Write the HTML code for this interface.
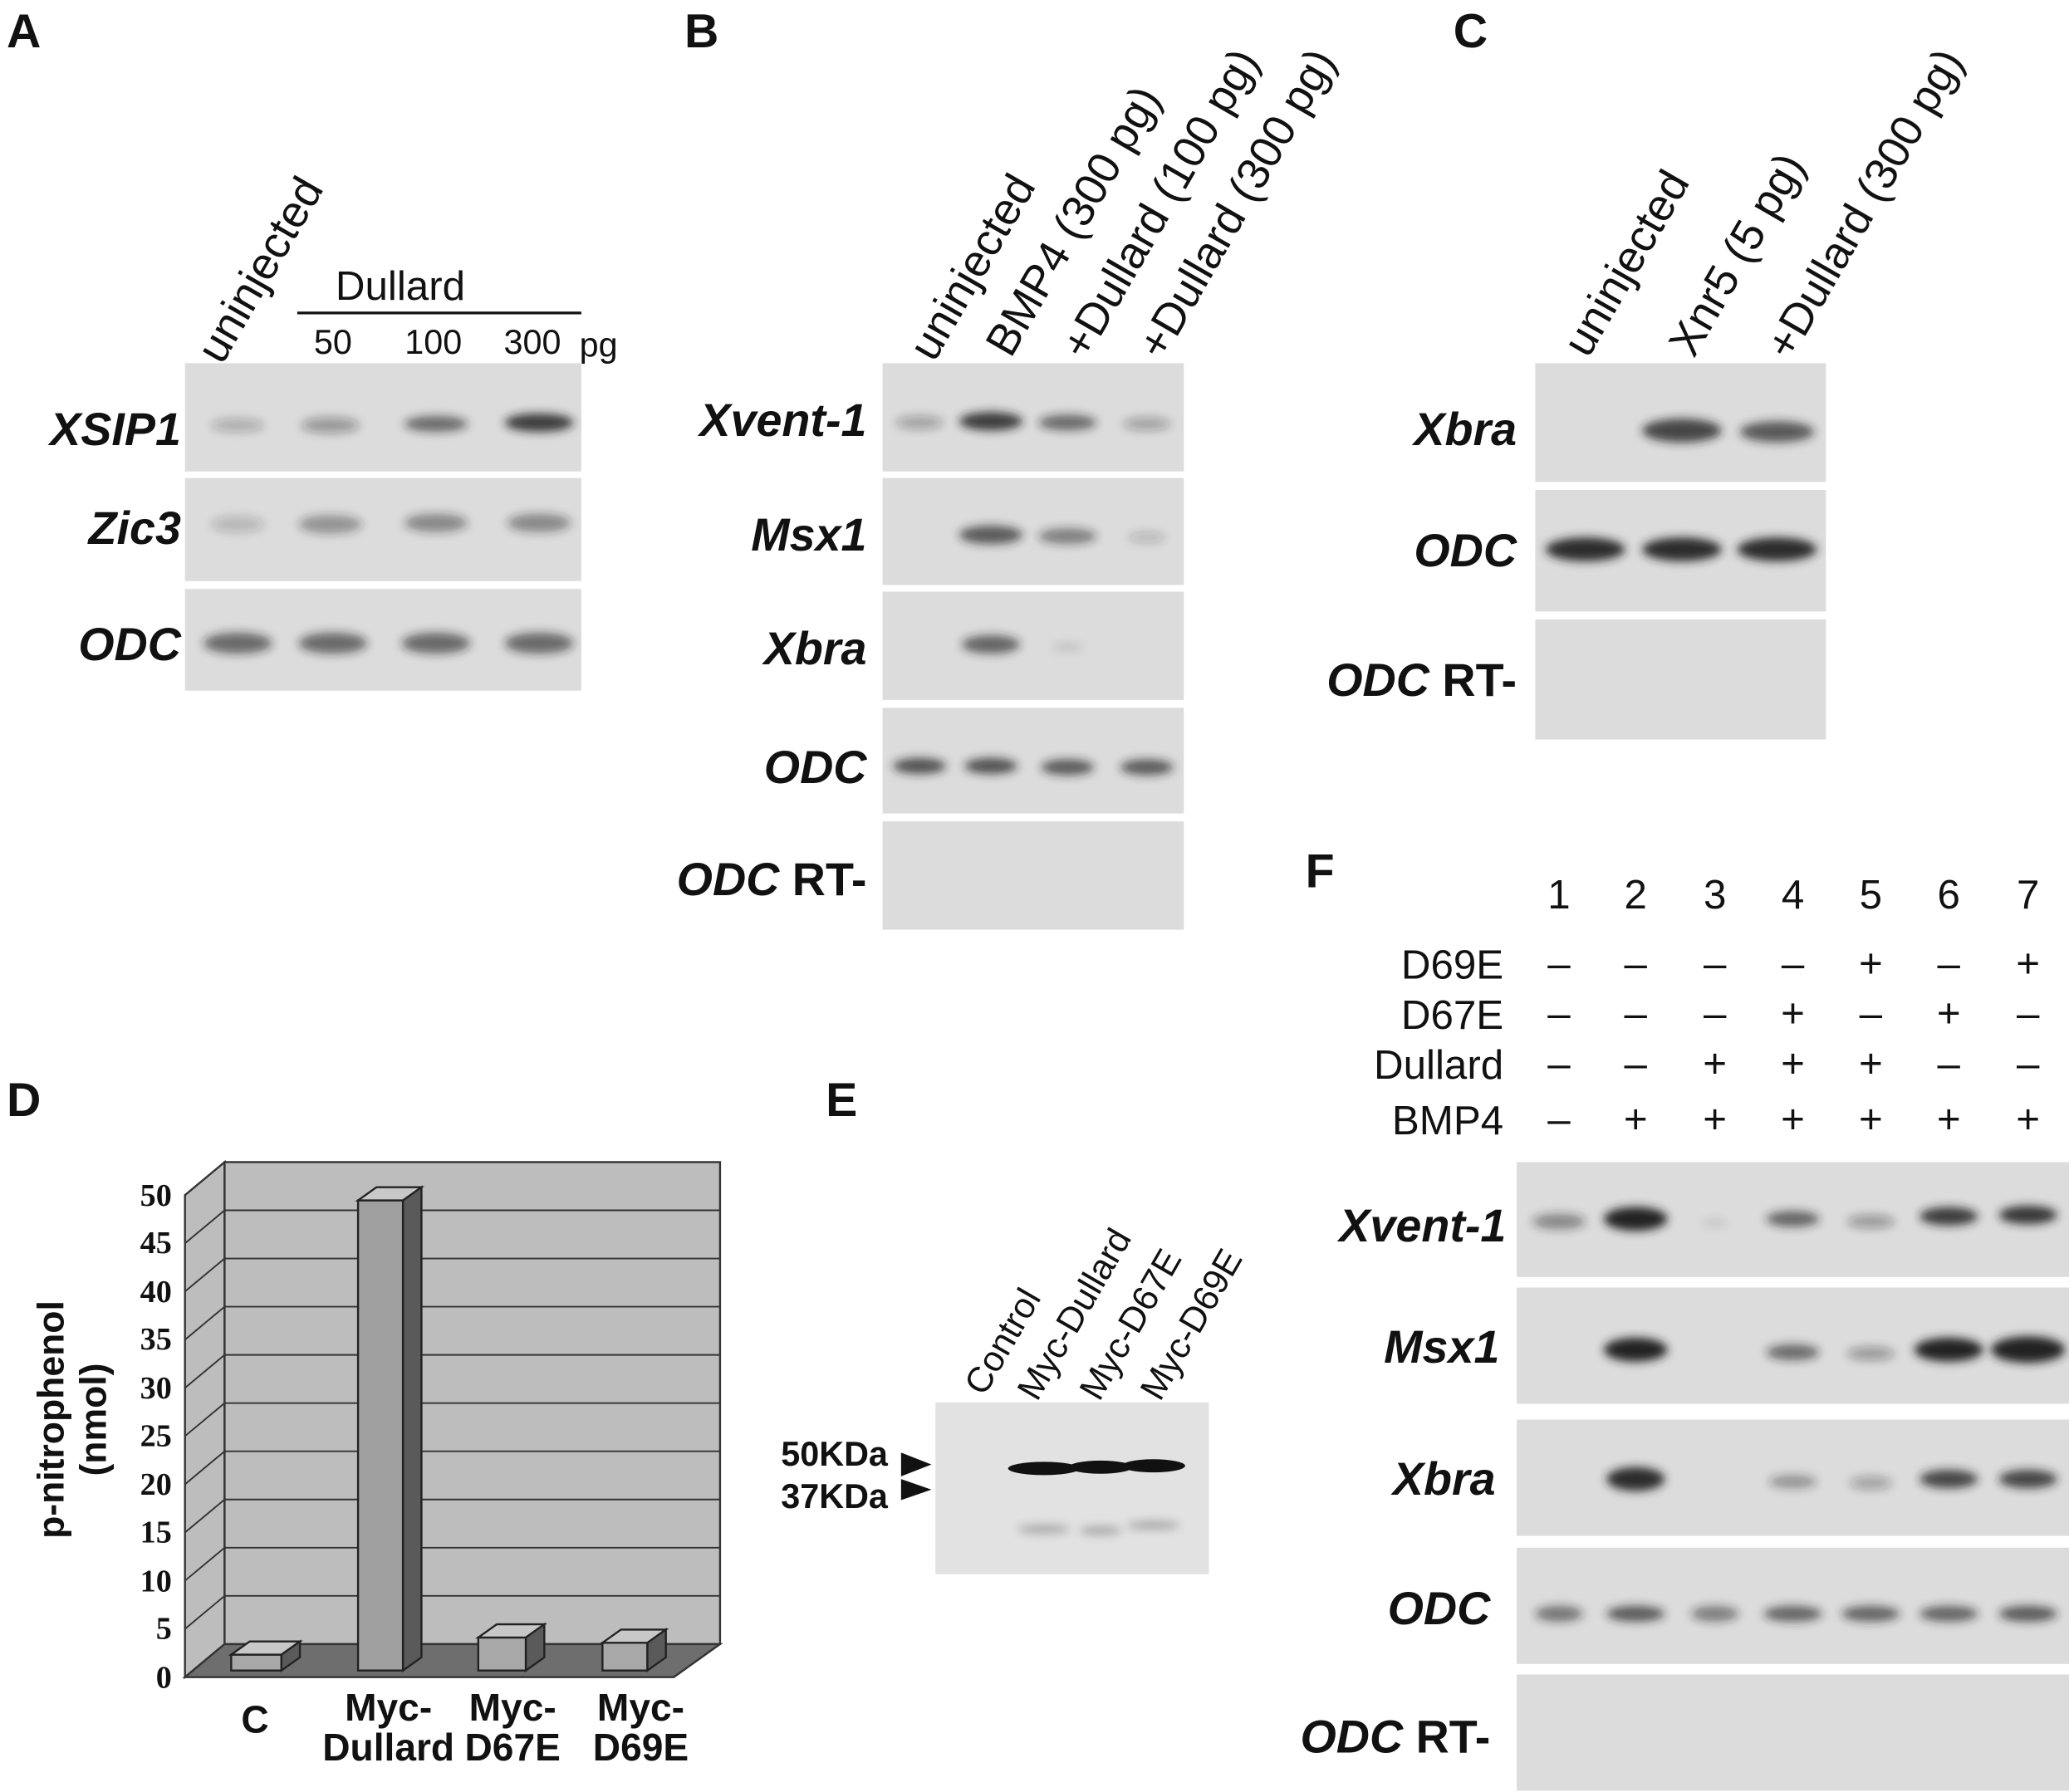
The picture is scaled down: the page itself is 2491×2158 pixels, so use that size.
<!DOCTYPE html>
<html><head><meta charset="utf-8"><style>
html,body{margin:0;padding:0;background:#fff;}
svg{display:block}
text{font-family:"Liberation Sans",sans-serif;fill:#111}
.L{font-size:36px;font-weight:bold}
.g{font-size:35px;font-weight:bold;font-style:italic}
.r{font-size:31px}
.rt{font-size:34px}
.n{font-size:30px}
.s{font-family:"Liberation Serif",serif;font-weight:bold;font-size:24px}
</style></head><body>
<svg width="2491" height="2158" viewBox="0 0 1566 1357" preserveAspectRatio="none" xmlns="http://www.w3.org/2000/svg">
<defs>
<filter id="b" x="-50%" y="-100%" width="200%" height="300%"><feGaussianBlur stdDeviation="3.5"/></filter>
</defs>
<g fill="#dcdcdc">
<rect x="140" y="275" width="300" height="82"/><rect x="140" y="362" width="300" height="78"/><rect x="140" y="446" width="300" height="77"/>
<rect x="668" y="275" width="228" height="82"/><rect x="668" y="362" width="228" height="81"/><rect x="668" y="448" width="228" height="82"/><rect x="668" y="536" width="228" height="80"/><rect x="668" y="622" width="228" height="82"/>
<rect x="1162" y="275" width="220" height="90"/><rect x="1162" y="371" width="220" height="92"/><rect x="1162" y="469" width="220" height="91"/>
<rect x="1148" y="880" width="418" height="87"/><rect x="1148" y="975" width="418" height="88"/><rect x="1148" y="1075" width="418" height="88"/><rect x="1148" y="1172" width="418" height="88"/><rect x="1148" y="1268" width="418" height="88"/>
<rect x="708" y="1062" width="207" height="130" fill="#e2e2e2"/>
</g>
<g filter="url(#b)" fill="#222">
<ellipse cx="180" cy="322" rx="20" ry="5" opacity="0.25"/><ellipse cx="250" cy="322" rx="22" ry="6" opacity="0.35"/><ellipse cx="330" cy="321" rx="24" ry="6" opacity="0.6"/><ellipse cx="408" cy="320" rx="26" ry="7" opacity="0.85"/>
<ellipse cx="180" cy="397" rx="20" ry="6" opacity="0.2"/><ellipse cx="250" cy="397" rx="24" ry="7" opacity="0.4"/><ellipse cx="330" cy="396" rx="24" ry="7" opacity="0.45"/><ellipse cx="408" cy="396" rx="24" ry="7" opacity="0.45"/>
<ellipse cx="180" cy="487" rx="26" ry="8" opacity="0.6"/><ellipse cx="252" cy="487" rx="26" ry="8" opacity="0.6"/><ellipse cx="330" cy="487" rx="26" ry="8" opacity="0.6"/><ellipse cx="408" cy="487" rx="26" ry="8" opacity="0.6"/>
<ellipse cx="696" cy="320" rx="18" ry="5" opacity="0.3"/><ellipse cx="750" cy="319" rx="24" ry="7" opacity="0.85"/><ellipse cx="808" cy="320" rx="22" ry="6" opacity="0.6"/><ellipse cx="868" cy="321" rx="18" ry="5" opacity="0.3"/>
<ellipse cx="750" cy="405" rx="24" ry="7" opacity="0.7"/><ellipse cx="808" cy="406" rx="22" ry="6" opacity="0.5"/><ellipse cx="868" cy="407" rx="14" ry="4" opacity="0.2"/>
<ellipse cx="750" cy="488" rx="22" ry="7" opacity="0.65"/><ellipse cx="808" cy="490" rx="12" ry="3" opacity="0.12"/>
<ellipse cx="696" cy="580" rx="20" ry="6" opacity="0.75"/><ellipse cx="750" cy="580" rx="20" ry="6" opacity="0.75"/><ellipse cx="808" cy="581" rx="20" ry="6" opacity="0.7"/><ellipse cx="868" cy="581" rx="20" ry="6" opacity="0.7"/>
<ellipse cx="1273" cy="326" rx="30" ry="9" opacity="0.8"/><ellipse cx="1345" cy="327" rx="28" ry="8" opacity="0.7"/>
<ellipse cx="1200" cy="416" rx="30" ry="9" opacity="0.95"/><ellipse cx="1273" cy="416" rx="30" ry="9" opacity="0.95"/><ellipse cx="1345" cy="416" rx="30" ry="9" opacity="0.95"/>
<ellipse cx="1180" cy="925" rx="20" ry="6" opacity="0.45"/><ellipse cx="1238" cy="923" rx="24" ry="9" opacity="1"/><ellipse cx="1298" cy="926" rx="10" ry="3" opacity="0.1"/><ellipse cx="1357" cy="923" rx="20" ry="6" opacity="0.65"/><ellipse cx="1416" cy="925" rx="18" ry="5" opacity="0.35"/><ellipse cx="1475" cy="921" rx="22" ry="7" opacity="0.85"/><ellipse cx="1535" cy="920" rx="22" ry="7" opacity="0.9"/>
<ellipse cx="1238" cy="1022" rx="24" ry="9" opacity="1"/><ellipse cx="1357" cy="1024" rx="20" ry="6" opacity="0.6"/><ellipse cx="1416" cy="1025" rx="18" ry="5" opacity="0.35"/><ellipse cx="1475" cy="1022" rx="26" ry="9" opacity="1"/><ellipse cx="1535" cy="1022" rx="28" ry="10" opacity="1"/>
<ellipse cx="1238" cy="1120" rx="22" ry="9" opacity="0.95"/><ellipse cx="1357" cy="1122" rx="18" ry="5" opacity="0.4"/><ellipse cx="1416" cy="1123" rx="16" ry="5" opacity="0.3"/><ellipse cx="1475" cy="1120" rx="22" ry="7" opacity="0.8"/><ellipse cx="1535" cy="1120" rx="22" ry="7" opacity="0.8"/>
<ellipse cx="1180" cy="1222" rx="18" ry="6" opacity="0.55"/><ellipse cx="1238" cy="1222" rx="22" ry="6" opacity="0.7"/><ellipse cx="1298" cy="1222" rx="18" ry="6" opacity="0.5"/><ellipse cx="1357" cy="1222" rx="22" ry="6" opacity="0.65"/><ellipse cx="1416" cy="1222" rx="22" ry="6" opacity="0.65"/><ellipse cx="1475" cy="1222" rx="22" ry="6" opacity="0.65"/><ellipse cx="1535" cy="1222" rx="22" ry="6" opacity="0.7"/>
</g>
<g fill="#111">
<ellipse cx="790" cy="1112" rx="27" ry="5"/><ellipse cx="833" cy="1111" rx="24" ry="5"/><ellipse cx="873" cy="1110" rx="24" ry="5"/>
</g>
<g filter="url(#b)" fill="#444" opacity="0.4"><ellipse cx="790" cy="1158" rx="20" ry="3"/><ellipse cx="833" cy="1159" rx="16" ry="3"/><ellipse cx="873" cy="1155" rx="20" ry="3"/></g>

<text class="L" x="5" y="36">A</text><text class="L" x="518" y="36">B</text><text class="L" x="1100" y="36">C</text>
<text class="L" x="988" y="672">F</text><text class="L" x="5" y="845">D</text><text class="L" x="625" y="845">E</text>

<text class="rt" transform="translate(168,277) rotate(-60)">uninjected</text>
<text class="r" x="303" y="227" text-anchor="middle">Dullard</text>
<line x1="225" y1="237" x2="440" y2="237" stroke="#111" stroke-width="2"/>
<text x="252" y="268" text-anchor="middle" style="font-size:26px">50</text>
<text x="328" y="268" text-anchor="middle" style="font-size:26px">100</text>
<text x="403" y="268" text-anchor="middle" style="font-size:26px">300</text>
<text x="453" y="270" text-anchor="middle" style="font-size:26px">pg</text>
<text class="g" x="137" y="337" text-anchor="end">XSIP1</text>
<text class="g" x="137" y="412" text-anchor="end">Zic3</text>
<text class="g" x="137" y="500" text-anchor="end">ODC</text>

<text class="rt" transform="translate(707,275) rotate(-60)">uninjected</text>
<text class="rt" transform="translate(765,272) rotate(-60)">BMP4 (300 pg)</text>
<text class="rt" transform="translate(822,274) rotate(-60)">+Dullard (100 pg)</text>
<text class="rt" transform="translate(880,274) rotate(-60)">+Dullard (300 pg)</text>
<text class="g" x="656" y="330" text-anchor="end">Xvent-1</text>
<text class="g" x="656" y="417" text-anchor="end">Msx1</text>
<text class="g" x="656" y="503" text-anchor="end">Xbra</text>
<text class="g" x="656" y="593" text-anchor="end">ODC</text>
<text class="g" x="656" y="678" text-anchor="end">ODC <tspan style="font-style:normal">RT-</tspan></text>

<text class="rt" transform="translate(1202,272) rotate(-60)">uninjected</text>
<text class="rt" transform="translate(1282,272) rotate(-60)">Xnr5 (5 pg)</text>
<text class="rt" transform="translate(1355,274) rotate(-60)">+Dullard (300 pg)</text>
<text class="g" x="1148" y="337" text-anchor="end">Xbra</text>
<text class="g" x="1148" y="429" text-anchor="end">ODC</text>
<text class="g" x="1148" y="527" text-anchor="end">ODC <tspan style="font-style:normal">RT-</tspan></text>

<text class="r" x="1180" y="688" text-anchor="middle">1</text><text class="r" x="1238" y="688" text-anchor="middle">2</text><text class="r" x="1298" y="688" text-anchor="middle">3</text><text class="r" x="1357" y="688" text-anchor="middle">4</text><text class="r" x="1416" y="688" text-anchor="middle">5</text><text class="r" x="1475" y="688" text-anchor="middle">6</text><text class="r" x="1535" y="688" text-anchor="middle">7</text>
<text class="r" x="1138" y="741" text-anchor="end">D69E</text>
<text class="r" x="1138" y="779" text-anchor="end">D67E</text>
<text class="r" x="1138" y="817" text-anchor="end">Dullard</text>
<text class="r" x="1138" y="859" text-anchor="end">BMP4</text>
<text class="r" text-anchor="middle" x="1180" y="740">–</text><text class="r" text-anchor="middle" x="1238" y="740">–</text><text class="r" text-anchor="middle" x="1298" y="740">–</text><text class="r" text-anchor="middle" x="1357" y="740">–</text><text class="r" text-anchor="middle" x="1416" y="740">+</text><text class="r" text-anchor="middle" x="1475" y="740">–</text><text class="r" text-anchor="middle" x="1535" y="740">+</text>
<text class="r" text-anchor="middle" x="1180" y="778">–</text><text class="r" text-anchor="middle" x="1238" y="778">–</text><text class="r" text-anchor="middle" x="1298" y="778">–</text><text class="r" text-anchor="middle" x="1357" y="778">+</text><text class="r" text-anchor="middle" x="1416" y="778">–</text><text class="r" text-anchor="middle" x="1475" y="778">+</text><text class="r" text-anchor="middle" x="1535" y="778">–</text>
<text class="r" text-anchor="middle" x="1180" y="816">–</text><text class="r" text-anchor="middle" x="1238" y="816">–</text><text class="r" text-anchor="middle" x="1298" y="816">+</text><text class="r" text-anchor="middle" x="1357" y="816">+</text><text class="r" text-anchor="middle" x="1416" y="816">+</text><text class="r" text-anchor="middle" x="1475" y="816">–</text><text class="r" text-anchor="middle" x="1535" y="816">–</text>
<text class="r" text-anchor="middle" x="1180" y="858">–</text><text class="r" text-anchor="middle" x="1238" y="858">+</text><text class="r" text-anchor="middle" x="1298" y="858">+</text><text class="r" text-anchor="middle" x="1357" y="858">+</text><text class="r" text-anchor="middle" x="1416" y="858">+</text><text class="r" text-anchor="middle" x="1475" y="858">+</text><text class="r" text-anchor="middle" x="1535" y="858">+</text>
<text class="g" x="1140" y="940" text-anchor="end">Xvent-1</text>
<text class="g" x="1135" y="1032" text-anchor="end">Msx1</text>
<text class="g" x="1132" y="1132" text-anchor="end">Xbra</text>
<text class="g" x="1128" y="1230" text-anchor="end">ODC</text>
<text class="g" x="1128" y="1327" text-anchor="end">ODC <tspan style="font-style:normal">RT-</tspan></text>

<polygon points="140,905 170,880 170,1245 140,1270" fill="#bdbdbd" stroke="#333" stroke-width="1.5"/>
<rect x="170" y="880" width="375" height="365" fill="#bdbdbd" stroke="#333" stroke-width="1.5"/>
<polygon points="140,1270 510,1270 545,1245 170,1245" fill="#6e6e6e" stroke="#333" stroke-width="1.5"/>
<g stroke="#333" stroke-width="1.2">
<line x1="170" y1="1208.5" x2="545" y2="1208.5"/><line x1="170" y1="1172" x2="545" y2="1172"/><line x1="170" y1="1135.5" x2="545" y2="1135.5"/><line x1="170" y1="1099" x2="545" y2="1099"/><line x1="170" y1="1062.5" x2="545" y2="1062.5"/><line x1="170" y1="1026" x2="545" y2="1026"/><line x1="170" y1="989.5" x2="545" y2="989.5"/><line x1="170" y1="953" x2="545" y2="953"/><line x1="170" y1="916.5" x2="545" y2="916.5"/>
<line x1="140" y1="1233.5" x2="170" y2="1208.5"/><line x1="140" y1="1197" x2="170" y2="1172"/><line x1="140" y1="1160.5" x2="170" y2="1135.5"/><line x1="140" y1="1124" x2="170" y2="1099"/><line x1="140" y1="1087.5" x2="170" y2="1062.5"/><line x1="140" y1="1051" x2="170" y2="1026"/><line x1="140" y1="1014.5" x2="170" y2="989.5"/><line x1="140" y1="978" x2="170" y2="953"/><line x1="140" y1="941.5" x2="170" y2="916.5"/>
</g>
<g stroke="#222" stroke-width="1.5">
<rect x="175" y="1253" width="38" height="12" fill="#a8a8a8"/><polygon points="175,1253 189,1243 227,1243 213,1253" fill="#c8c8c8"/><polygon points="213,1253 227,1243 227,1255 213,1265" fill="#5a5a5a"/>
<rect x="271" y="909" width="34" height="356" fill="#a0a0a0"/><polygon points="271,909 285,899 319,899 305,909" fill="#c8c8c8"/><polygon points="305,909 319,899 319,1255 305,1265" fill="#5a5a5a"/>
<rect x="362" y="1240" width="36" height="25" fill="#a8a8a8"/><polygon points="362,1240 376,1230 412,1230 398,1240" fill="#c8c8c8"/><polygon points="398,1240 412,1230 412,1255 398,1265" fill="#5a5a5a"/>
<rect x="456" y="1244" width="34" height="21" fill="#a8a8a8"/><polygon points="456,1244 470,1234 504,1234 490,1244" fill="#c8c8c8"/><polygon points="490,1244 504,1234 504,1255 490,1265" fill="#5a5a5a"/>
</g>
<text class="s" x="130" y="1278" text-anchor="end">0</text><text class="s" x="130" y="1241" text-anchor="end">5</text><text class="s" x="130" y="1205" text-anchor="end">10</text><text class="s" x="130" y="1168" text-anchor="end">15</text><text class="s" x="130" y="1132" text-anchor="end">20</text><text class="s" x="130" y="1095" text-anchor="end">25</text><text class="s" x="130" y="1059" text-anchor="end">30</text><text class="s" x="130" y="1022" text-anchor="end">35</text><text class="s" x="130" y="986" text-anchor="end">40</text><text class="s" x="130" y="949" text-anchor="end">45</text><text class="s" x="130" y="913" text-anchor="end">50</text>
<text transform="translate(48,1075) rotate(-90)" text-anchor="middle" style="font-size:28px;font-weight:bold">p-nitrophenol</text>
<text transform="translate(80,1075) rotate(-90)" text-anchor="middle" style="font-size:28px;font-weight:bold">(nmol)</text>
<text x="193" y="1312" text-anchor="middle" style="font-size:29px;font-weight:bold">C</text>
<text x="294" y="1303" text-anchor="middle" style="font-size:29px;font-weight:bold">Myc-</text><text x="294" y="1333" text-anchor="middle" style="font-size:29px;font-weight:bold">Dullard</text>
<text x="388" y="1303" text-anchor="middle" style="font-size:29px;font-weight:bold">Myc-</text><text x="388" y="1333" text-anchor="middle" style="font-size:29px;font-weight:bold">D67E</text>
<text x="485" y="1303" text-anchor="middle" style="font-size:29px;font-weight:bold">Myc-</text><text x="485" y="1333" text-anchor="middle" style="font-size:29px;font-weight:bold">D69E</text>

<text style="font-size:27px" transform="translate(745,1058) rotate(-60)">Control</text>
<text style="font-size:27px" transform="translate(785,1062) rotate(-60)">Myc-Dullard</text>
<text style="font-size:27px" transform="translate(832,1062) rotate(-60)">Myc-D67E</text>
<text style="font-size:27px" transform="translate(878,1062) rotate(-60)">Myc-D69E</text>
<text x="672" y="1110" text-anchor="end" style="font-size:26px;font-weight:bold">50KDa</text>
<text x="672" y="1142" text-anchor="end" style="font-size:26px;font-weight:bold">37KDa</text>
<polygon points="682,1100 705,1109 682,1118" fill="#111"/>
<polygon points="682,1120 705,1128 682,1136" fill="#111"/>
</svg>
</body></html>
